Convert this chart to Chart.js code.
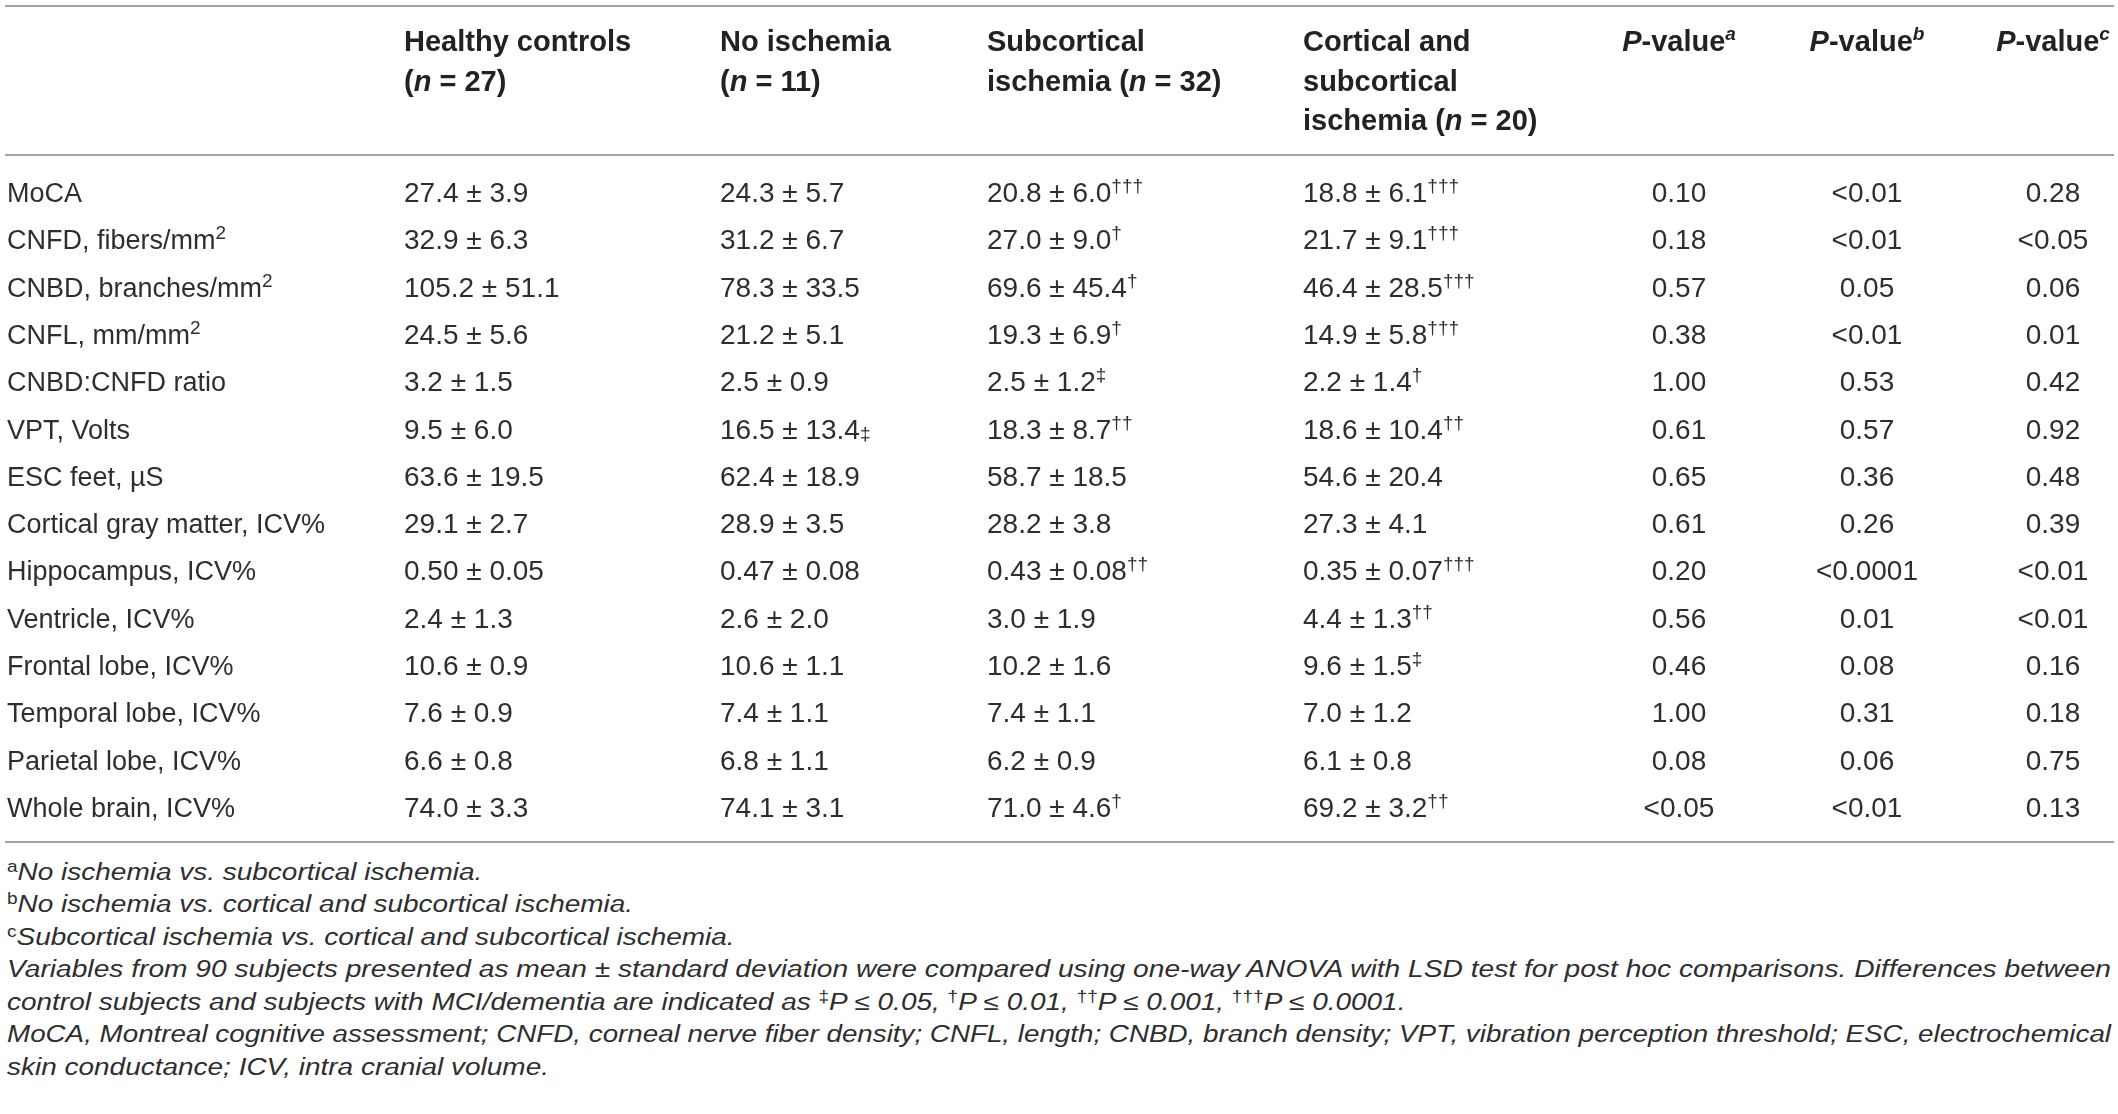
<!DOCTYPE html>
<html>
<head>
<meta charset="utf-8">
<script src="https://cdn.jsdelivr.net/npm/chart.js@4.4.1/dist/chart.umd.min.js"></script>
<style>
  html, body { margin: 0; padding: 0; background: #fff; }
  #wrap { position: relative; width: 2118px; height: 1114px; overflow: hidden; }
  #tbl { position: absolute; left: 0; top: 0; }
  .note {
    position: absolute; left: 7px; white-space: nowrap;
    font: italic 23.5px "Liberation Sans", Arial, sans-serif; color: #2e2e2e;
    line-height: 33px; transform-origin: 0 0;
  }
  .note sup { font-style: normal; font-size: 16px; vertical-align: 0; position: relative; top: -8px; }
</style>
</head>
<body>
<div id="wrap">
  <canvas id="tbl" width="2118" height="850"></canvas>
  <div class="note"><sup>a</sup>No ischemia vs. subcortical ischemia.</div>
  <div class="note"><sup>b</sup>No ischemia vs. cortical and subcortical ischemia.</div>
  <div class="note"><sup>c</sup>Subcortical ischemia vs. cortical and subcortical ischemia.</div>
  <div class="note fit">Variables from 90 subjects presented as mean ± standard deviation were compared using one-way ANOVA with LSD test for post hoc comparisons. Differences between</div>
  <div class="note">control subjects and subjects with MCI/dementia are indicated as <sup>‡</sup>P ≤ 0.05, <sup>†</sup>P ≤ 0.01, <sup>††</sup>P ≤ 0.001, <sup>†††</sup>P ≤ 0.0001.</div>
  <div class="note fit">MoCA, Montreal cognitive assessment; CNFD, corneal nerve fiber density; CNFL, length; CNBD, branch density; VPT, vibration perception threshold; ESC, electrochemical</div>
  <div class="note">skin conductance; ICV, intra cranial volume.</div>
</div>
<script>
// rows of the table ("^" starts a superscript, "_" a small mark on the baseline)
const rows = [
    "MoCA",
    "CNFD, fibers/mm^2",
    "CNBD, branches/mm^2",
    "CNFL, mm/mm^2",
    "CNBD:CNFD ratio",
    "VPT, Volts",
    "ESC feet, µS",
    "Cortical gray matter, ICV%",
    "Hippocampus, ICV%",
    "Ventricle, ICV%",
    "Frontal lobe, ICV%",
    "Temporal lobe, ICV%",
    "Parietal lobe, ICV%",
    "Whole brain, ICV%",
];

const healthy = ["27.4 ± 3.9", "32.9 ± 6.3", "105.2 ± 51.1", "24.5 ± 5.6", "3.2 ± 1.5", "9.5 ± 6.0", "63.6 ± 19.5",
    "29.1 ± 2.7", "0.50 ± 0.05", "2.4 ± 1.3", "10.6 ± 0.9", "7.6 ± 0.9", "6.6 ± 0.8", "74.0 ± 3.3"];

const noIschemia = ["24.3 ± 5.7", "31.2 ± 6.7", "78.3 ± 33.5", "21.2 ± 5.1", "2.5 ± 0.9", "16.5 ± 13.4_‡", "62.4 ± 18.9",
    "28.9 ± 3.5", "0.47 ± 0.08", "2.6 ± 2.0", "10.6 ± 1.1", "7.4 ± 1.1", "6.8 ± 1.1", "74.1 ± 3.1"];

const subcortical = ["20.8 ± 6.0^†††", "27.0 ± 9.0^†", "69.6 ± 45.4^†", "19.3 ± 6.9^†", "2.5 ± 1.2^‡", "18.3 ± 8.7^††", "58.7 ± 18.5",
    "28.2 ± 3.8", "0.43 ± 0.08^††", "3.0 ± 1.9", "10.2 ± 1.6", "7.4 ± 1.1", "6.2 ± 0.9", "71.0 ± 4.6^†"];

const corticalSub = ["18.8 ± 6.1^†††", "21.7 ± 9.1^†††", "46.4 ± 28.5^†††", "14.9 ± 5.8^†††", "2.2 ± 1.4^†", "18.6 ± 10.4^††", "54.6 ± 20.4",
    "27.3 ± 4.1", "0.35 ± 0.07^†††", "4.4 ± 1.3^††", "9.6 ± 1.5^‡", "7.0 ± 1.2", "6.1 ± 0.8", "69.2 ± 3.2^††"];

const pValueA = ["0.10", "0.18", "0.57", "0.38", "1.00", "0.61", "0.65", "0.61", "0.20", "0.56", "0.46", "1.00", "0.08", "<0.05"];
const pValueB = ["<0.01", "<0.01", "0.05", "<0.01", "0.53", "0.57", "0.36", "0.26", "<0.0001", "0.01", "0.08", "0.31", "0.06", "<0.01"];
const pValueC = ["0.28", "<0.05", "0.06", "0.01", "0.42", "0.92", "0.48", "0.39", "<0.01", "<0.01", "0.16", "0.18", "0.75", "0.13"];

// header lines per column; segments: [text, style]
const headers = [
    [],
    [[["Healthy controls", "b"]], [["(", "b"], ["n", "bi"], [" = 27)", "b"]]],
    [[["No ischemia", "b"]], [["(", "b"], ["n", "bi"], [" = 11)", "b"]]],
    [[["Subcortical", "b"]], [["ischemia (", "b"], ["n", "bi"], [" = 32)", "b"]]],
    [[["Cortical and", "b"]], [["subcortical", "b"]], [["ischemia (", "b"], ["n", "bi"], [" = 20)", "b"]]],
    [[["P", "bi"], ["-value", "b"], ["a", "supi"]]],
    [[["P", "bi"], ["-value", "b"], ["b", "supi"]]],
    [[["P", "bi"], ["-value", "b"], ["c", "supi"]]],
];

const columns = [rows, healthy, noIschemia, subcortical, corticalSub, pValueA, pValueB, pValueC];

// layout of the columns (x anchor, alignment, base font)
const colX = [7, 404, 720, 987, 1303, 1679, 1867, 2053];
const colAlign = ["left", "left", "left", "left", "left", "center", "center", "center"];
const colFont = ["lbl", "n", "n", "n", "n", "n", "n", "n"];

const FAM = '"Liberation Sans", Arial, sans-serif';
const fonts = {
    lbl: "27px " + FAM,
    n: "28px " + FAM,
    sup: "19px " + FAM,
    low: "19px " + FAM,
    b: "bold 29px " + FAM,
    bi: "italic bold 29px " + FAM,
    supi: "italic bold 19px " + FAM,
};
const raise = { sup: -10, supi: -11, low: 1 };

function drawSegs(ctx, segs, x, y, align, color) {
    let w = 0;
    segs.forEach(s => { ctx.font = fonts[s[1]]; w += ctx.measureText(s[0]).width; });
    let cx = align === "center" ? x - w / 2 : x;
    ctx.fillStyle = color;
    ctx.textAlign = "left";
    ctx.textBaseline = "alphabetic";
    segs.forEach(s => {
        ctx.font = fonts[s[1]];
        ctx.fillText(s[0], cx, y + (raise[s[1]] || 0));
        cx += ctx.measureText(s[0]).width;
    });
}

function cellSegs(str, base) {
    const m = str.match(/^([^^_]*)([\^_])(.*)$/);
    if (!m) return [[str, base]];
    return [[m[1], base], [m[3], m[2] === "^" ? "sup" : "low"]];
}

const tablePlugin = {
    id: "tableText",
    afterDatasetsDraw(chart) {
        const ctx = chart.ctx;
        ctx.save();
        // rules
        ctx.strokeStyle = "#a3a3a3";
        ctx.lineWidth = 2;
        [6, 155, 842].forEach(y => {
            ctx.beginPath();
            ctx.moveTo(5, y);
            ctx.lineTo(2114, y);
            ctx.stroke();
        });
        // header
        headers.forEach((lines, j) => {
            lines.forEach((segs, k) => {
                drawSegs(ctx, segs, colX[j], 51 + k * 39.5, colAlign[j], "#222");
            });
        });
        // cells
        chart.data.datasets.forEach((ds, j) => {
            const meta = chart.getDatasetMeta(j);
            meta.data.forEach((pt, i) => {
                drawSegs(ctx, cellSegs(ds.cells[i], colFont[j]), pt.x, pt.y + 10, colAlign[j], "#2e2e2e");
            });
        });
        ctx.restore();
    }
};

new Chart(document.getElementById("tbl").getContext("2d"), {
    type: "scatter",
    data: {
        datasets: columns.map((col, j) => ({
            cells: col,
            data: rows.map(r => ({ x: colX[j], y: r })),
            pointRadius: 0,
        })),
    },
    options: {
        responsive: false,
        animation: false,
        devicePixelRatio: 1,
        layout: { padding: { left: 0, right: 0, top: 168.35, bottom: 850 - 830.65 } },
        scales: {
            x: { type: "linear", min: 0, max: 2118, display: false },
            y: { type: "category", labels: rows, offset: true, display: false },
        },
        plugins: { legend: { display: false }, tooltip: { enabled: false } },
    },
    plugins: [tablePlugin],
});

// footnotes: place the lines, fit the two full-width lines to the table width
const notes = document.querySelectorAll(".note");
const fits = [];
document.querySelectorAll(".note.fit").forEach(el => {
    const s = 2104 / el.getBoundingClientRect().width;
    el.dataset.s = s;
    fits.push(s);
});
const sAvg = fits.reduce((a, b) => a + b, 0) / fits.length;
notes.forEach((el, i) => {
    el.style.top = (872 + i * 32.5 - 16.2) + "px";
    el.style.transform = "scaleX(" + (el.dataset.s || sAvg) + ")";
});
</script>
</body>
</html>
